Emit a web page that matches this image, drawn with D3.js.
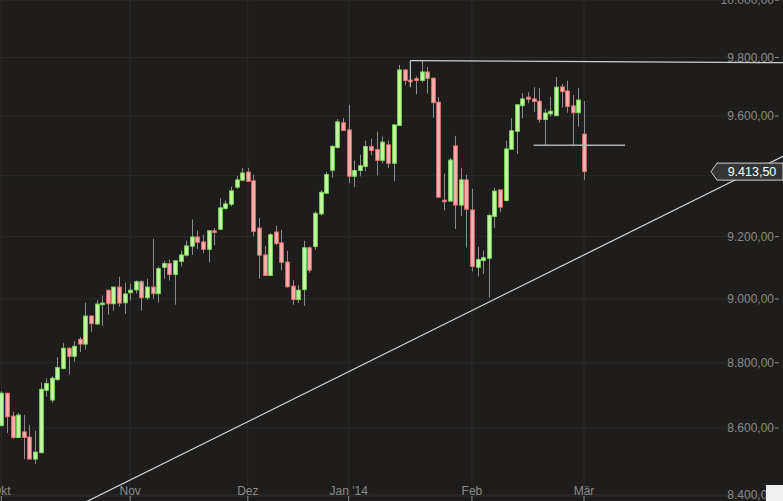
<!DOCTYPE html>
<html>
<head>
<meta charset="utf-8">
<script src="https://cdn.jsdelivr.net/npm/d3@7"></script>
<style>
  body { margin: 0; background: #1e1d1c; }
  svg { display: block; }
</style>
</head>
<body>
<div id="chart"></div>
<script>
// daily candles, Oct 2013 .. Mar 3 2014, [open, high, low, close]
const candles = [
  [8607,8712,8605,8706],[8706,8706,8585,8634],[8636,8649,8567,8571],[8571,8646,8570,8639],
  [8588,8639,8506,8571],[8572,8609,8506,8506],[8506,8591,8491,8527],[8525,8739,8525,8718],
  [8715,8752,8695,8736],[8685,8758,8677,8752],[8748,8817,8743,8785],[8782,8861,8779,8845],
  [8845,8849,8764,8820],[8820,8867,8804,8851],[8873,8880,8833,8858],[8858,8988,8841,8946],
  [8946,8949,8896,8922],[8921,8997,8918,8984],[8982,9011,8915,8987],[9028,9028,8950,8985],
  [8985,9038,8963,9038],[9038,9071,8975,8987],[8988,9052,8953,9016],[9020,9048,8995,9028],
  [9029,9059,9018,9055],[9055,9059,8963,9004],[9004,9064,8997,9038],[9038,9193,9001,9017],
  [9017,9104,8988,9097],[9101,9122,9065,9113],[9113,9126,9059,9078],[9078,9122,8982,9122],
  [9120,9155,9104,9141],[9140,9187,9136,9170],[9169,9256,9141,9199],[9199,9220,9160,9182],
  [9183,9206,9146,9159],[9159,9219,9117,9219],[9219,9228,9172,9217],[9224,9325,9224,9294],
  [9292,9318,9288,9307],[9306,9364,9299,9350],[9362,9400,9356,9386],[9385,9426,9381,9409],
  [9412,9426,9381,9381],[9383,9403,9201,9217],[9228,9261,9065,9140],[9141,9170,9075,9075],
  [9075,9212,9075,9206],[9215,9235,9172,9178],[9180,9222,9091,9117],[9118,9154,9036,9039],
  [9041,9060,8982,8998],[8998,9044,8988,9028],[9030,9187,8979,9164],[9164,9169,9084,9092],
  [9168,9282,9158,9276],[9274,9352,9269,9345],[9342,9413,9342,9404],[9418,9501,9394,9498],
  [9494,9590,9490,9580],[9577,9593,9551,9551],[9553,9638,9375,9398],[9398,9450,9362,9417],
  [9417,9470,9398,9433],[9431,9517,9415,9497],[9497,9523,9468,9484],[9487,9547,9401,9451],
  [9451,9530,9441,9512],[9503,9517,9425,9441],[9441,9570,9381,9570],[9568,9774,9568,9757],
  [9757,9761,9704,9721],[9722,9789,9697,9721],[9727,9735,9673,9721],[9721,9789,9714,9750],
  [9750,9767,9676,9728],[9729,9729,9594,9645],[9647,9664,9329,9329],[9319,9407,9286,9318],
  [9316,9459,9316,9452],[9499,9533,9225,9303],[9303,9426,9267,9386],[9386,9403,9165,9289],
  [9287,9357,9088,9104],[9101,9167,9072,9126],[9123,9155,9080,9132],[9130,9275,9005,9269],
  [9266,9360,9228,9349],[9353,9353,9280,9296],[9318,9517,9315,9489],[9488,9592,9488,9550],
  [9548,9641,9472,9638],[9635,9678,9592,9658],[9664,9681,9643,9657],[9658,9698,9614,9649],
  [9650,9695,9577,9588],[9588,9624,9501,9610],[9607,9665,9598,9616],[9601,9733,9601,9698],
  [9699,9709,9628,9683],[9685,9720,9611,9632],[9634,9672,9498,9611],[9611,9696,9564,9654],
  [9539,9651,9385,9413.5]
];
const months = [
  {label: "Okt", i: 0}, {label: "Nov", i: 23}, {label: "Dez", i: 44},
  {label: "Jan '14", i: 62}, {label: "Feb", i: 84}, {label: "Mär", i: 104}
];
const priceTicks = [8400, 8600, 8800, 9000, 9200, 9400, 9600, 9800, 10000];
const lastPrice = 9413.5;
const resistance = {from: 73, value: 9789};
const support = {from: 95, to: 101, value: 9501};
// trend line through two points [index, price]
const trend = [[87, 8990], [104, 9141]];

const width = 783, height = 501;
const svg = d3.select("#chart").append("svg").attr("width", width).attr("height", height);
svg.append("rect").attr("width", width).attr("height", height).attr("fill", "#1e1d1c");

const x = d3.scaleLinear().domain([0, 104]).range([1.3, 584]);
const y = d3.scaleLog().domain([9000, 9800]).range([299, 57.5]);

const fmt = v => d3.format(",.2f")(v).replace(/,/g, "#").replace(".", ",").replace(/#/g, ".");

// grid
svg.append("g").selectAll("line").data(priceTicks).join("line")
  .attr("x1", 0).attr("x2", 775).attr("y1", d => y(d)).attr("y2", d => y(d))
  .attr("stroke", "#2b2a29");
svg.append("g").selectAll("line").data(months).join("line")
  .attr("x1", d => x(d.i)).attr("x2", d => x(d.i)).attr("y1", 0).attr("y2", 501)
  .attr("stroke", "#2b2a29");

// x axis labels + ticks
svg.append("line").attr("x1", 0).attr("x2", 783).attr("y1", 496).attr("y2", 496).attr("stroke", "#2e2d2c");
svg.append("g").selectAll("line").data(months).join("line")
  .attr("x1", d => x(d.i)).attr("x2", d => x(d.i)).attr("y1", 496).attr("y2", 501)
  .attr("stroke", "#8a8a8a");
svg.append("g").selectAll("text").data(months).join("text")
  .attr("x", d => x(d.i)).attr("y", 495).attr("text-anchor", "middle")
  .attr("font-family", "Liberation Sans, Arial, sans-serif").attr("font-size", 12)
  .attr("fill", "#8a8a8a").text(d => d.label);

// y axis labels (the one under the price tag is hidden, as in the source)
const shownTicks = priceTicks.filter(d => Math.abs(y(d) - y(lastPrice)) > 12);
svg.append("g").selectAll("text").data(shownTicks).join("text")
  .attr("x", 774).attr("y", d => y(d) + 4).attr("text-anchor", "end")
  .attr("font-family", "Liberation Sans, Arial, sans-serif").attr("font-size", 12)
  .attr("fill", "#8a8a8a").text(d => fmt(d));
svg.append("g").selectAll("line").data(shownTicks).join("line")
  .attr("x1", 775).attr("x2", 779).attr("y1", d => y(d)).attr("y2", d => y(d))
  .attr("stroke", "#8a8a8a");

// trend line, extended across the plot in pixel space
const p0 = [x(trend[0][0]), y(trend[0][1])], p1 = [x(trend[1][0]), y(trend[1][1])];
const slope = (p1[1] - p0[1]) / (p1[0] - p0[0]);
svg.append("line")
  .attr("x1", 0).attr("y1", p0[1] - p0[0] * slope)
  .attr("x2", 783).attr("y2", p0[1] + (783 - p0[0]) * slope)
  .attr("stroke", "#d8d8d8").attr("stroke-width", 1.2);

// candles
const bw = 3.6;
const g = svg.append("g");
g.selectAll("line").data(candles).join("line")
  .attr("x1", (d, i) => Math.round(x(i)) + 0.5).attr("x2", (d, i) => Math.round(x(i)) + 0.5)
  .attr("y1", d => y(d[1])).attr("y2", d => y(d[2]))
  .attr("stroke", "#8c8c8c");
g.selectAll("rect").data(candles).join("rect")
  .attr("x", (d, i) => Math.round(x(i)) + 0.5 - bw / 2)
  .attr("y", d => y(Math.max(d[0], d[3])))
  .attr("width", bw)
  .attr("height", d => Math.max(1.5, Math.abs(y(d[0]) - y(d[3]))))
  .attr("fill", d => d[3] >= d[0] ? "#c8f7a8" : "#f7b4b4")
  .attr("stroke", d => d[3] >= d[0] ? "#7ee05a" : "#ee7070")
  .attr("stroke-width", 1);

// resistance / support lines
svg.append("line").attr("x1", x(resistance.from)).attr("x2", 783)
  .attr("y1", y(resistance.value)).attr("y2", y(resistance.value) + 2)
  .attr("stroke", "#cfcfcf").attr("stroke-width", 1.3);
svg.append("line").attr("x1", x(resistance.from)).attr("x2", x(resistance.from))
  .attr("y1", y(resistance.value)).attr("y2", y(9700)).attr("stroke", "#cfcfcf");
svg.append("line").attr("x1", x(support.from)).attr("x2", 625)
  .attr("y1", y(support.value)).attr("y2", y(support.value))
  .attr("stroke", "#b0b0b0").attr("stroke-width", 1.5);

// last price tag
const ly = y(lastPrice);
svg.append("path")
  .attr("d", `M711,${ly} L717,${ly - 8.5} L783,${ly - 8.5} L783,${ly + 8.5} L717,${ly + 8.5} Z`)
  .attr("fill", "#353535").attr("stroke", "#d0d0d0").attr("stroke-width", 1);
svg.append("text").attr("x", 752).attr("y", ly + 4.5).attr("text-anchor", "middle")
  .attr("font-family", "Liberation Sans, Arial, sans-serif").attr("font-size", 12.5)
  .attr("fill", "#ffffff").text(fmt(lastPrice));

// corner box
svg.append("rect").attr("x", 766).attr("y", 485).attr("width", 17).attr("height", 16).attr("fill", "#efefef");
</script>
</body>
</html>
